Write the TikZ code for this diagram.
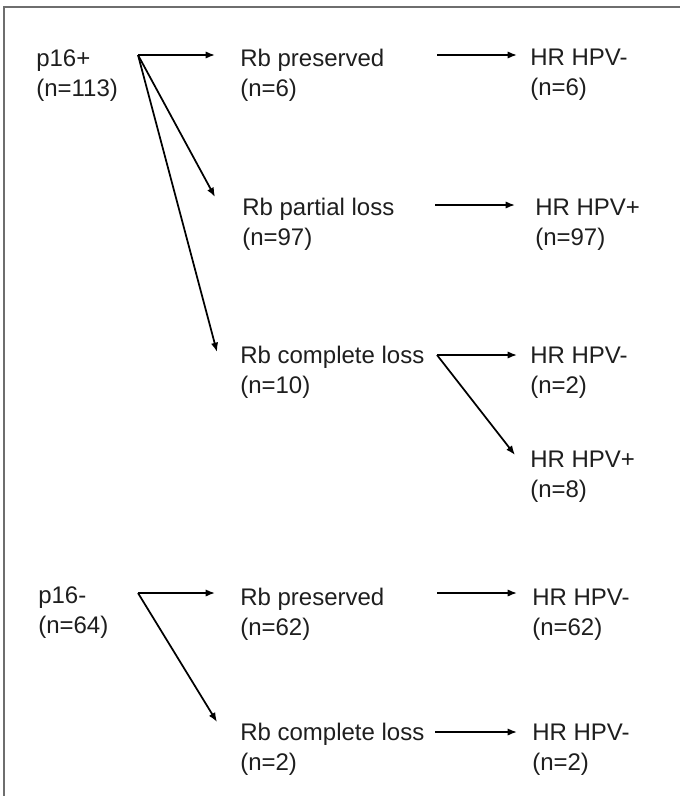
\documentclass[tikz,border=0pt]{standalone}
\usepackage{fontspec}
\setmainfont{Liberation Sans}
\usetikzlibrary{arrows.meta,calc}
\definecolor{txtcol}{HTML}{1E1E1E}
\definecolor{framecol}{HTML}{6E6E6E}
\newcommand{\lblfont}{\fontsize{18pt}{22.5pt}\selectfont}
% two lines: group name, then its count
\newcommand{\twoline}[2]{\rule{0pt}{16pt}#1\\#2}
\tikzset{
  lbl/.style={anchor=north west, inner sep=0pt, align=left, text=txtcol,
    font=\lblfont},
  arr/.style={line width=1.3pt, -{Latex[length=7pt,width=5.5pt]}}
}
\begin{document}
\begin{tikzpicture}[x=0.75pt,y=-0.75pt]
  \useasboundingbox (0,0) rectangle (680,796);
  % frame, only top and left edges are seen
  \draw[framecol, line width=1.5pt] (4,796) -- (4,7) -- (680,7);

  % p16 positive
  \node[lbl] (p16pos)  at (36,45)   {\twoline{p16+}{(n=113)}};
  \node[lbl] (rbpres1) at (240,45)  {\twoline{Rb preserved}{(n=6)}};
  \node[lbl] (hpvneg1) at (530,44)  {\twoline{HR HPV-}{(n=6)}};
  \node[lbl] (rbpart)  at (242,194) {\twoline{Rb partial loss}{(n=97)}};
  \node[lbl] (hpvpos1) at (535,194) {\twoline{HR HPV+}{(n=97)}};
  \node[lbl] (rbcomp1) at (240,342) {\twoline{Rb complete loss}{(n=10)}};
  \node[lbl] (hpvneg2) at (530,342) {\twoline{HR HPV-}{(n=2)}};
  \node[lbl] (hpvpos2) at (530,446) {\twoline{HR HPV+}{(n=8)}};

  % p16 negative
  \node[lbl] (p16neg)  at (38,582)  {\twoline{p16-}{(n=64)}};
  \node[lbl] (rbpres2) at (240,584) {\twoline{Rb preserved}{(n=62)}};
  \node[lbl] (hpvneg3) at (532,584) {\twoline{HR HPV-}{(n=62)}};
  \node[lbl] (rbcomp2) at (240,719) {\twoline{Rb complete loss}{(n=2)}};
  \node[lbl] (hpvneg4) at (532,719) {\twoline{HR HPV-}{(n=2)}};

  % where the arrows leave
  \coordinate (p16pos-out) at ([shift={(102,10)}]p16pos.north west);
  \coordinate (rbpres1-out) at ([shift={(197,10)}]rbpres1.north west);
  \coordinate (rbpart-out) at ([shift={(193,11)}]rbpart.north west);
  \coordinate (rbcomp1-out) at ([shift={(197,13)}]rbcomp1.north west);
  \coordinate (p16neg-out) at ([shift={(100,11)}]p16neg.north west);
  \coordinate (rbpres2-out) at ([shift={(197,9)}]rbpres2.north west);
  \coordinate (rbcomp2-out) at ([shift={(195,13)}]rbcomp2.north west);

  \draw[arr] (p16pos-out) -- ([shift={(-25,10)}]rbpres1.north west);
  \draw[arr] (p16pos-out) -- ([shift={(-27,3)}]rbpart.north west);
  \draw[arr] (p16pos-out) -- ([shift={(-23,10)}]rbcomp1.north west);
  \draw[arr] (rbpres1-out) -- ([shift={(-13,11)}]hpvneg1.north west);
  \draw[arr] (rbpart-out) -- ([shift={(-20,11)}]hpvpos1.north west);
  \draw[arr] (rbcomp1-out) -- ([shift={(-13,13)}]hpvneg2.north west);
  \draw[arr] (rbcomp1-out) -- ([shift={(-15,9)}]hpvpos2.north west);

  \draw[arr] (p16neg-out) -- ([shift={(-25,9)}]rbpres2.north west);
  \draw[arr] (p16neg-out) -- ([shift={(-23,3)}]rbcomp2.north west);
  \draw[arr] (rbpres2-out) -- ([shift={(-15,9)}]hpvneg3.north west);
  \draw[arr] (rbcomp2-out) -- ([shift={(-15,13)}]hpvneg4.north west);
\end{tikzpicture}
\end{document}
